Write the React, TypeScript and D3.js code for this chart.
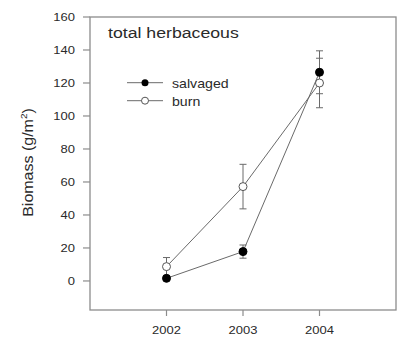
import React from "react";
import * as d3 from "d3";

const years = [2002, 2003, 2004];
const salvaged = [1.6, 17.8, 126.5];
const salvagedErr = [1, 4, 13];
const burn = [8.7, 57.2, 120];
const burnErr = [5.5, 13.5, 15];
const yTicks = [0, 20, 40, 60, 80, 100, 120, 140, 160];
const xTicks = [2002, 2003, 2004];
const title = "total herbaceous";
const seriesNames = ["salvaged", "burn"];

const W = 399;
const H = 337;
const left = 90, right = 396, top = 17, bottom = 310;
const SX = 1.18; // horizontal stretch of the reference text

const x = d3.scaleLinear().domain([2001, 2005]).range([left, right]);
const y = d3.scaleLinear().domain([-17.6, 160]).range([bottom, top]);

const line = d3.line<number>().x((_, i) => x(years[i])).y((v) => y(v));

const frameColor = "#8c8c8c";
const lineColor = "#6a6a6a";
const textColor = "#2a2a2a";

function T({ x0, y0, size, anchor = "start", children }: any) {
  return (
    <text
      transform={`translate(${x0},${y0}) scale(${SX},1)`}
      fontSize={size}
      textAnchor={anchor}
      fill={textColor}
      fontFamily="Liberation Sans, Arial, sans-serif"
    >
      {children}
    </text>
  );
}

function ErrBars({ vals, errs }: { vals: number[]; errs: number[] }) {
  return (
    <g stroke={lineColor} strokeWidth={1}>
      {vals.map((v, i) => {
        const cx = x(years[i]);
        const y1 = y(v + errs[i]);
        const y2 = y(v - errs[i]);
        return (
          <g key={i}>
            <line x1={cx} x2={cx} y1={y1} y2={y2} />
            <line x1={cx - 3.5} x2={cx + 3.5} y1={y1} y2={y1} />
            <line x1={cx - 3.5} x2={cx + 3.5} y1={y2} y2={y2} />
          </g>
        );
      })}
    </g>
  );
}

export default function App() {
  return (
    <svg
      width={W}
      height={H}
      style={{ position: "absolute", left: 0, top: 0, background: "#fff" }}
    >
      <rect
        x={left}
        y={top}
        width={right - left}
        height={bottom - top}
        fill="none"
        stroke={frameColor}
        strokeWidth={1.3}
      />
      {yTicks.map((t) => (
        <g key={t}>
          <line x1={left - 7} x2={left} y1={y(t)} y2={y(t)} stroke={frameColor} strokeWidth={1.2} />
          <T x0={left - 15} y0={y(t) + 4} size={11} anchor="end">
            {t}
          </T>
        </g>
      ))}
      {xTicks.map((t) => (
        <g key={t}>
          <line x1={x(t)} x2={x(t)} y1={bottom} y2={bottom + 6} stroke={frameColor} strokeWidth={1.2} />
          <T x0={x(t)} y0={bottom + 24} size={11} anchor="middle">
            {t}
          </T>
        </g>
      ))}
      <text
        transform={`translate(${33},${162.5}) rotate(-90) scale(1,0.95)`}
        fontSize={16}
        textAnchor="middle"
        fill={textColor}
        fontFamily="Liberation Sans, Arial, sans-serif"
      >
        Biomass (g/m
        <tspan dy={-6} fontSize={10}>2</tspan>
        <tspan dy={6}>)</tspan>
      </text>
      <T x0={108} y0={38} size={15}>
        {title}
      </T>

      {/* burn series */}
      <path d={line(burn) || ""} fill="none" stroke={lineColor} strokeWidth={1} />
      <ErrBars vals={burn} errs={burnErr} />
      {/* salvaged series */}
      <path d={line(salvaged) || ""} fill="none" stroke={lineColor} strokeWidth={1} />
      <ErrBars vals={salvaged} errs={salvagedErr} />
      {burn.map((v, i) => (
        <circle key={"b" + i} cx={x(years[i])} cy={y(v)} r={4} fill="#fff" stroke="#555" strokeWidth={1} />
      ))}
      {salvaged.map((v, i) => (
        <circle key={"s" + i} cx={x(years[i])} cy={y(v)} r={4} fill="#000" stroke="#000" strokeWidth={1} />
      ))}

      {/* legend */}
      <line x1={127} x2={163} y1={82.7} y2={82.7} stroke={lineColor} />
      <circle cx={145} cy={82.7} r={3.5} fill="#000" />
      <T x0={172} y0={87.5} size={12}>
        {seriesNames[0]}
      </T>
      <line x1={127} x2={163} y1={100.7} y2={100.7} stroke={lineColor} />
      <circle cx={145} cy={100.7} r={3.5} fill="#fff" stroke="#555" />
      <T x0={172} y0={105.5} size={12}>
        {seriesNames[1]}
      </T>
    </svg>
  );
}
